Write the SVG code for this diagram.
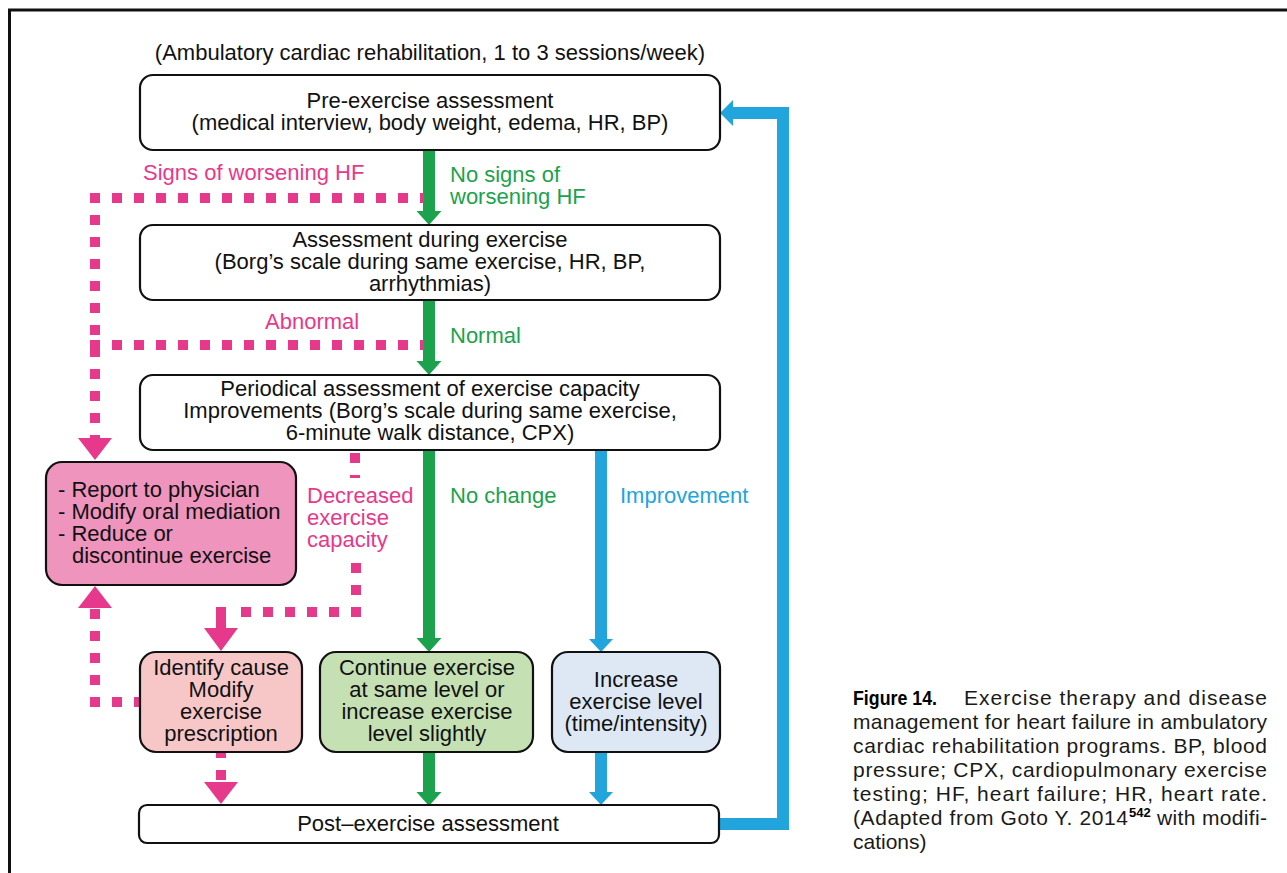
<svg xmlns="http://www.w3.org/2000/svg" width="1287" height="873" viewBox="0 0 1287 873">
  <style>
    text { font-family: "Liberation Sans", Arial, sans-serif; }
    .t { font-size: 22px; fill: #111; }
    .mid { text-anchor: middle; }
    .box { stroke: #111; stroke-width: 2.2; }
    .white { fill: #fff; }
    .lbl-pink { font-size: 22px; fill: #e6398b; }
    .lbl-green { font-size: 22px; fill: #1ca24c; }
    .lbl-blue { font-size: 22px; fill: #22a4dc; }
    .g-line { stroke: #1ca24c; stroke-width: 12; fill: none; }
    .b-line { stroke: #22a4dc; stroke-width: 12; fill: none; }
    .p-dash { stroke: #e6398b; stroke-width: 10; fill: none; stroke-dasharray: 10 12; }
    .p-solid { stroke: #e6398b; stroke-width: 10; fill: none; }
    .cap { font-size: 21px; fill: #1a1a1a; }
  </style>
  <defs>
    <marker id="headG" markerUnits="userSpaceOnUse" markerWidth="30" markerHeight="30" refX="0" refY="0" orient="auto" overflow="visible">
      <path d="M0,-12.5 L14,0 L0,12.5 Z" fill="#1ca24c"/>
    </marker>
    <marker id="headB" markerUnits="userSpaceOnUse" markerWidth="30" markerHeight="30" refX="0" refY="0" orient="auto" overflow="visible">
      <path d="M0,-12 L13,0 L0,12 Z" fill="#22a4dc"/>
    </marker>
    <marker id="headP" markerUnits="userSpaceOnUse" markerWidth="40" markerHeight="40" refX="0" refY="0" orient="auto" overflow="visible">
      <path d="M0,-17 L22,0 L0,17 Z" fill="#e6398b"/>
    </marker>
  </defs>

  <rect width="1287" height="873" fill="#fff"/>

  <!-- page frame -->
  <path d="M9.5,873 V10 H1287" fill="none" stroke="#111" stroke-width="3"/>

  <text class="t mid" x="430" y="60">(Ambulatory cardiac rehabilitation, 1 to 3 sessions/week)</text>

  <!-- connectors -->
  <g id="connectors">
    <!-- green main flow -->
    <line class="g-line" x1="429" y1="150" x2="429" y2="211" marker-end="url(#headG)"/>
    <line class="g-line" x1="429" y1="300" x2="429" y2="361" marker-end="url(#headG)"/>
    <line class="g-line" x1="429" y1="450" x2="429" y2="638" marker-end="url(#headG)"/>
    <line class="g-line" x1="429" y1="753" x2="429" y2="792" marker-end="url(#headG)"/>
    <!-- blue improvement path -->
    <line class="b-line" x1="601" y1="450" x2="601" y2="639" marker-end="url(#headB)"/>
    <line class="b-line" x1="601" y1="753" x2="601" y2="792" marker-end="url(#headB)"/>
    <!-- blue return loop -->
    <path class="b-line" d="M719,824 H783 V113 H733" stroke-linejoin="miter"/>
    <path d="M733,100 L733,126 L720,113 Z" fill="#22a4dc"/>

    <!-- worsening HF -->
    <path class="p-dash" d="M90,198 H424"/>
    <path class="p-dash" d="M95,193 V438"/>
    <path d="M78,438 L112,438 L95,460 Z" fill="#e6398b"/>
    <!-- abnormal -->
    <path class="p-dash" d="M90,345 H424"/>
    <!-- decreased exercise capacity -->
    <path class="p-dash" d="M355,453 V478"/>
    <path class="p-dash" d="M356,563 V617"/>
    <path class="p-dash" d="M361,612 H241"/>
    <path class="p-solid" d="M221,607 V629"/>
    <path d="M204,628 L238,628 L221,651 Z" fill="#e6398b"/>
    <!-- identify cause back to physician report -->
    <path class="p-dash" d="M90,702 H140"/>
    <path class="p-dash" d="M95,707 V608"/>
    <path d="M78,608 L112,608 L95,586 Z" fill="#e6398b"/>
    <!-- identify cause to post-exercise -->
    <path class="p-dash" d="M221,748 V782"/>
    <path d="M204,782 L238,782 L221,804 Z" fill="#e6398b"/>

    <!-- labels -->
    <text class="lbl-pink" x="143" y="180">Signs of worsening HF</text>
    <text class="lbl-green" x="450" y="182">No signs of</text>
    <text class="lbl-green" x="450" y="204">worsening HF</text>
    <text class="lbl-pink" x="265" y="329">Abnormal</text>
    <text class="lbl-green" x="450" y="343">Normal</text>
    <text class="lbl-pink" x="307" y="503">Decreased</text>
    <text class="lbl-pink" x="307" y="525">exercise</text>
    <text class="lbl-pink" x="307" y="547">capacity</text>
    <text class="lbl-green" x="450" y="503">No change</text>
    <text class="lbl-blue" x="620" y="503">Improvement</text>
  </g>

  <!-- nodes -->
  <g id="pre-exercise">
    <rect class="box white" x="140" y="75" width="580" height="75" rx="13"/>
    <text class="t mid" x="430" y="108">Pre-exercise assessment</text>
    <text class="t mid" x="430" y="130">(medical interview, body weight, edema, HR, BP)</text>
  </g>

  <g id="during-exercise">
    <rect class="box white" x="140" y="225" width="580" height="75" rx="13"/>
    <text class="t mid" x="430" y="247">Assessment during exercise</text>
    <text class="t mid" x="430" y="269">(Borg’s scale during same exercise, HR, BP,</text>
    <text class="t mid" x="430" y="291">arrhythmias)</text>
  </g>

  <g id="periodical">
    <rect class="box white" x="140" y="375" width="580" height="75" rx="13"/>
    <text class="t mid" x="430" y="396">Periodical assessment of exercise capacity</text>
    <text class="t mid" x="430" y="418">Improvements (Borg’s scale during same exercise,</text>
    <text class="t mid" x="430" y="440">6-minute walk distance, CPX)</text>
  </g>

  <g id="report-physician">
    <rect class="box" x="46" y="462" width="250" height="123" rx="16" fill="#ef94bc"/>
    <text class="t" x="58" y="497">- Report to physician</text>
    <text class="t" x="58" y="519">- Modify oral mediation</text>
    <text class="t" x="58" y="541">- Reduce or</text>
    <text class="t" x="72" y="563">discontinue exercise</text>
  </g>

  <g id="identify-cause">
    <rect class="box" x="140" y="652" width="162" height="100" rx="16" fill="#f7c7c8"/>
    <text class="t mid" x="221" y="675">Identify cause</text>
    <text class="t mid" x="221" y="697">Modify</text>
    <text class="t mid" x="221" y="719">exercise</text>
    <text class="t mid" x="221" y="741">prescription</text>
  </g>

  <g id="continue-exercise">
    <rect class="box" x="320" y="652" width="213" height="100" rx="16" fill="#c5e0b3"/>
    <text class="t mid" x="427" y="675">Continue exercise</text>
    <text class="t mid" x="427" y="697">at same level or</text>
    <text class="t mid" x="427" y="719">increase exercise</text>
    <text class="t mid" x="427" y="741">level slightly</text>
  </g>

  <g id="increase-exercise">
    <rect class="box" x="552" y="652" width="168" height="100" rx="16" fill="#dde8f4"/>
    <text class="t mid" x="636" y="687">Increase</text>
    <text class="t mid" x="636" y="709">exercise level</text>
    <text class="t mid" x="636" y="731">(time/intensity)</text>
  </g>

  <g id="post-exercise">
    <rect class="box white" x="139" y="805" width="580" height="38" rx="8"/>
    <text class="t mid" x="428" y="831">Post–exercise assessment</text>
  </g>

  <!-- figure caption -->
  <g id="caption">
    <text class="cap" x="853" y="705" font-weight="bold" textLength="84" lengthAdjust="spacingAndGlyphs" style="fill:#000">Figure 14.</text>
    <text class="cap" x="964" y="705" textLength="303" lengthAdjust="spacing">Exercise therapy and disease</text>
    <text class="cap" x="853" y="729" textLength="414" lengthAdjust="spacing">management for heart failure in ambulatory</text>
    <text class="cap" x="853" y="753" textLength="414" lengthAdjust="spacing">cardiac rehabilitation programs. BP, blood</text>
    <text class="cap" x="853" y="777" textLength="414" lengthAdjust="spacing">pressure; CPX, cardiopulmonary exercise</text>
    <text class="cap" x="853" y="801" textLength="414" lengthAdjust="spacing">testing; HF, heart failure; HR, heart rate.</text>
    <text class="cap" x="853" y="825" textLength="275" lengthAdjust="spacing">(Adapted from Goto Y. 2014</text>
    <text x="1129" y="817" font-size="13" font-weight="bold" fill="#000">542</text>
    <text class="cap" x="1157" y="825" textLength="110" lengthAdjust="spacing">with modifi-</text>
    <text class="cap" x="853" y="849">cations)</text>
  </g>
</svg>
